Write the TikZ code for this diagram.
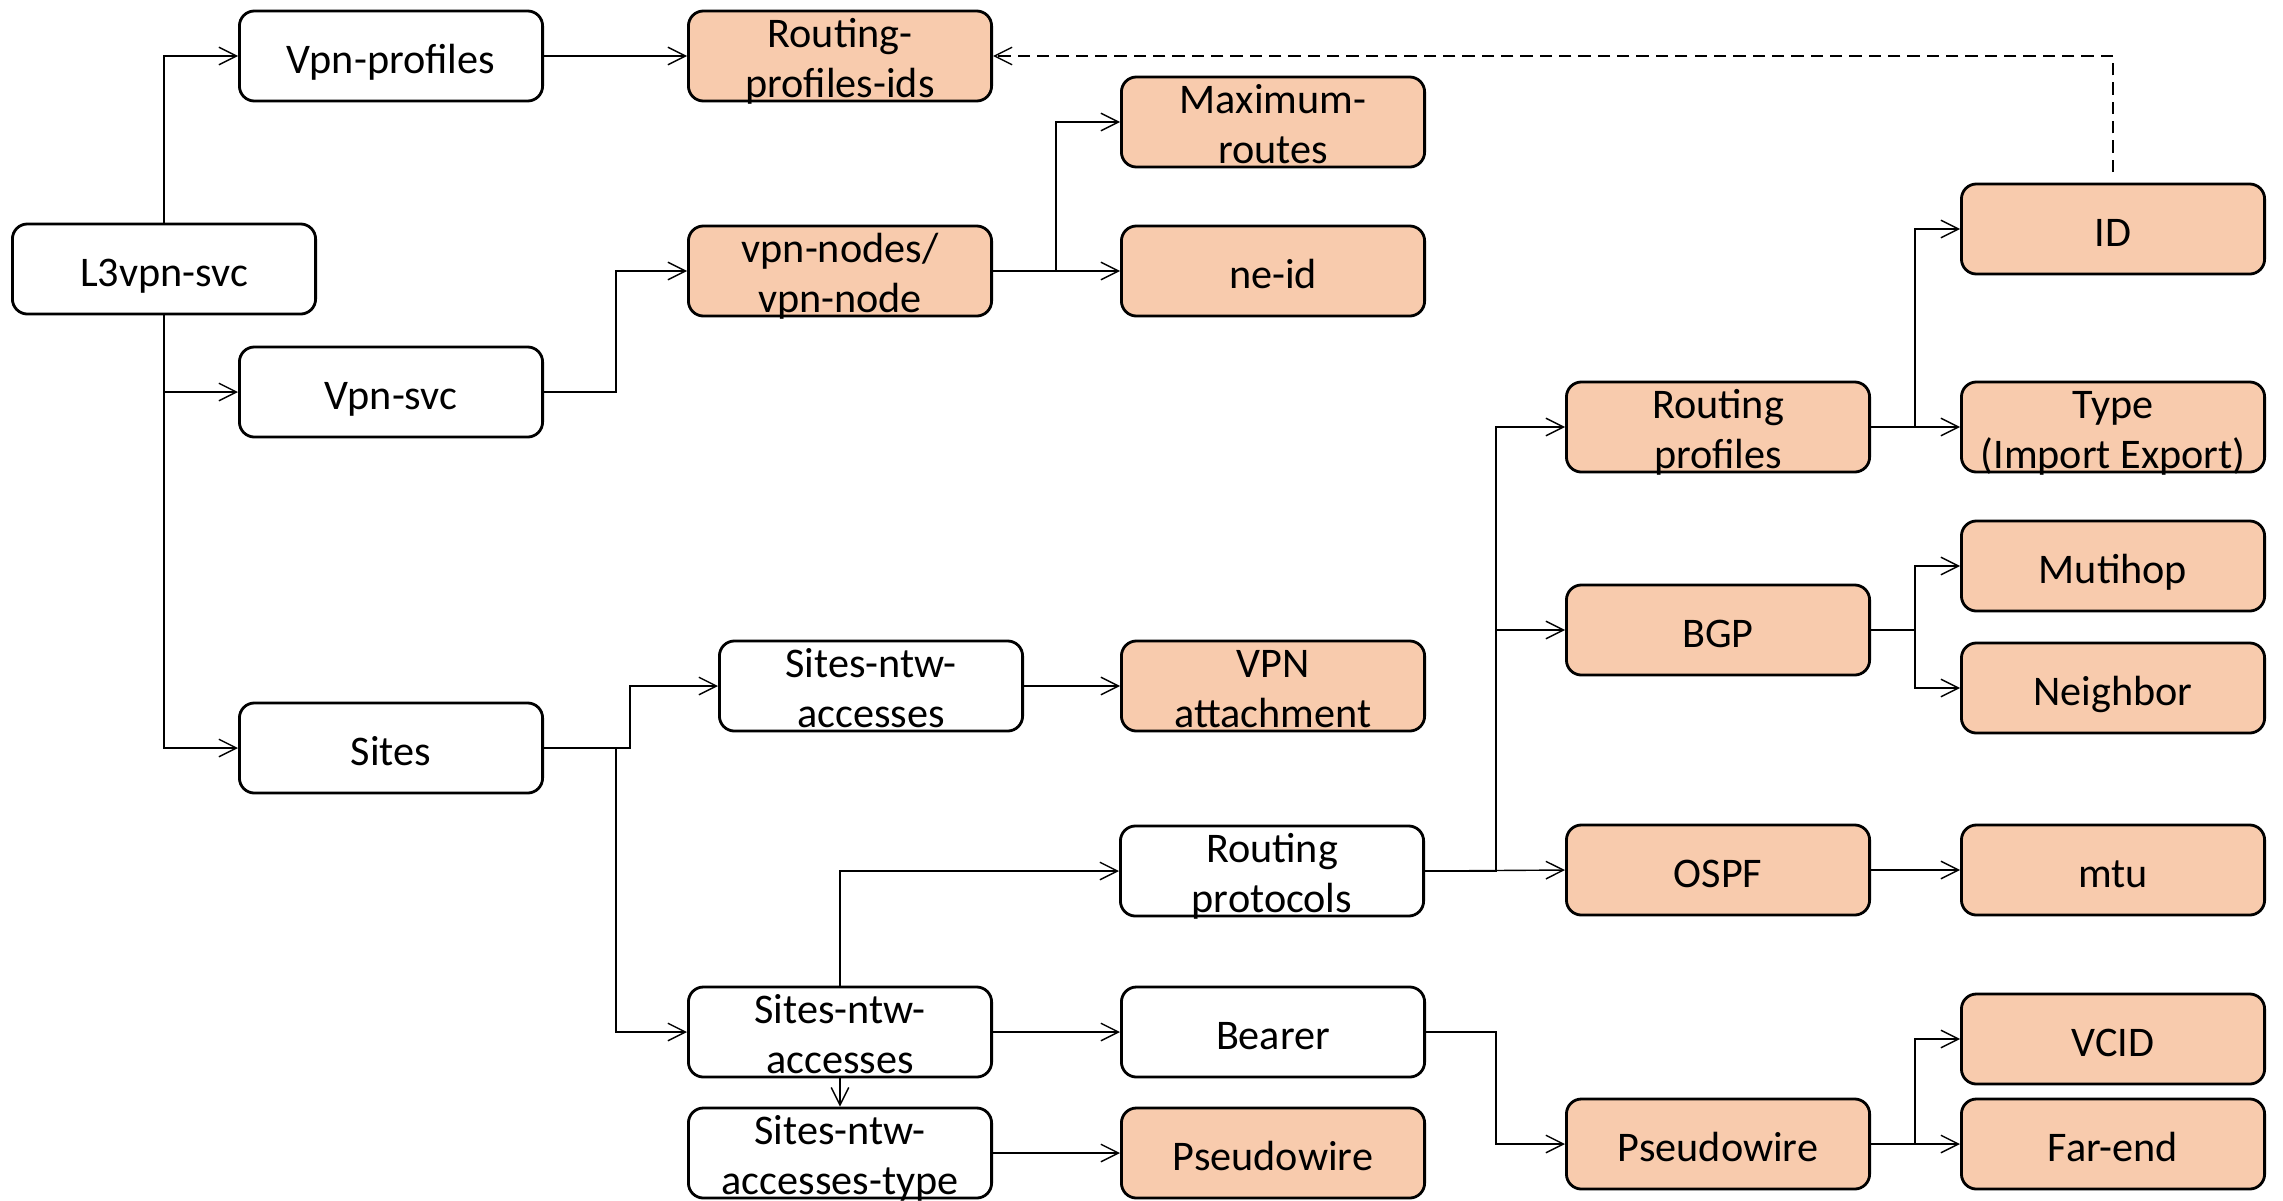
\documentclass[tikz,border=0pt]{standalone}
\usepackage{fontspec}
\setmainfont{Carlito}
\usetikzlibrary{arrows.meta}
\definecolor{peach}{HTML}{F8CBAD}
\begin{document}
\begin{tikzpicture}[x=0.01cm,y=-0.01cm,
  box/.style={draw=black, line width=0.8pt, rounded corners=0.15cm,
    minimum width=3.03cm, minimum height=0.9cm, inner sep=0pt, align=center,
    font=\fontsize{12}{14.2}\selectfont},
  one/.style={box, text height=10.2pt, text depth=0pt},
  two/.style={box, text height=23.4pt, text depth=0pt},
  wbox/.style={fill=white},
  obox/.style={fill=peach},
  conn/.style={line width=0.4pt, -{Straight Barb[length=5pt,width=5pt]}},
  dconn/.style={conn, dash pattern=on 3.5pt off 2pt},
]
\useasboundingbox (0,0) rectangle (2283,1200);

% column 1
\node[one,wbox] (l3) at (164,269) {L3vpn-svc};
% column 2
\node[one,wbox] (vpnprof) at (391,56) {Vpn-profiles};
\node[one,wbox] (vpnsvc) at (391,392) {Vpn-svc};
\node[one,wbox] (sites) at (391,748) {Sites};
% column 3
\node[two,obox] (rpids) at (840,56) {Routing-\\profiles-ids};
\node[two,obox] (vpnnodes) at (840,271) {vpn-nodes/\\vpn-node};
\node[two,wbox] (sna1) at (871,686) {Sites-ntw-\\accesses};
\node[two,wbox] (sna2) at (840,1032) {Sites-ntw-\\accesses};
\node[two,wbox] (snat) at (840,1153) {Sites-ntw-\\accesses-type};
% column 4
\node[two,obox] (maxr) at (1273,122) {Maximum-\\routes};
\node[one,obox] (neid) at (1273,271) {ne-id};
\node[two,obox] (vpnatt) at (1273,686) {VPN\\attachment};
\node[two,wbox] (rprot) at (1272,871) {Routing\\protocols};
\node[one,wbox] (bearer) at (1273,1032) {Bearer};
\node[one,obox] (pw1) at (1273,1153) {Pseudowire};
% column 5
\node[two,obox] (rprof) at (1718,427) {Routing\\profiles};
\node[one,obox] (bgp) at (1718,630) {BGP};
\node[one,obox] (ospf) at (1718,870) {OSPF};
\node[one,obox] (pw2) at (1718,1144) {Pseudowire};
% column 6
\node[one,obox] (id) at (2113,229) {ID};
\node[two,obox] (type) at (2113,427) {Type\\(Import Export)};
\node[one,obox] (muti) at (2113,566) {Mutihop};
\node[one,obox] (neigh) at (2113,688) {Neighbor};
\node[one,obox] (mtu) at (2113,870) {mtu};
\node[one,obox] (vcid) at (2113,1039) {VCID};
\node[one,obox] (farend) at (2113,1144) {Far-end};

% connectors
\draw[conn] (l3.north) |- (vpnprof.west);
\draw[conn] (l3.south) |- (vpnsvc.west);
\draw[conn] (l3.south) |- (sites.west);
\draw[conn] (vpnprof.east) -- (rpids.west);
\draw[conn] (vpnsvc.east) -- (616,392) |- (vpnnodes.west);
\draw[conn] (vpnnodes.east) -- (1056,271) |- (maxr.west);
\draw[conn] (vpnnodes.east) -- (neid.west);
\draw[dconn] ([yshift=3pt]id.north) |- (rpids.east);
\draw[conn] (sites.east) -- (630,748) |- (sna1.west);
\draw[conn] (sites.east) -- (616,748) |- (sna2.west);
\draw[conn] (sna1.east) -- (vpnatt.west);
\draw[conn] (sna2.north) |- (rprot.west);
\draw[conn] (sna2.south) -- (snat.north);
\draw[conn] (sna2.east) -- (bearer.west);
\draw[conn] (snat.east) -- (pw1.west);
\draw[conn] (bearer.east) -- (1496,1032) |- (pw2.west);
\draw[conn] (rprot.east) -- (1496,871) |- (rprof.west);
\draw[conn] (rprot.east) -- (1496,871) |- (bgp.west);
\draw[conn] (rprot.east) -- (ospf.west);
\draw[conn] (rprof.east) -- (1915,427) |- (id.west);
\draw[conn] (rprof.east) -- (type.west);
\draw[conn] (bgp.east) -- (1915,630) |- (muti.west);
\draw[conn] (bgp.east) -- (1915,630) |- (neigh.west);
\draw[conn] (ospf.east) -- (mtu.west);
\draw[conn] (pw2.east) -- (1915,1144) |- (vcid.west);
\draw[conn] (pw2.east) -- (farend.west);
\end{tikzpicture}
\end{document}
